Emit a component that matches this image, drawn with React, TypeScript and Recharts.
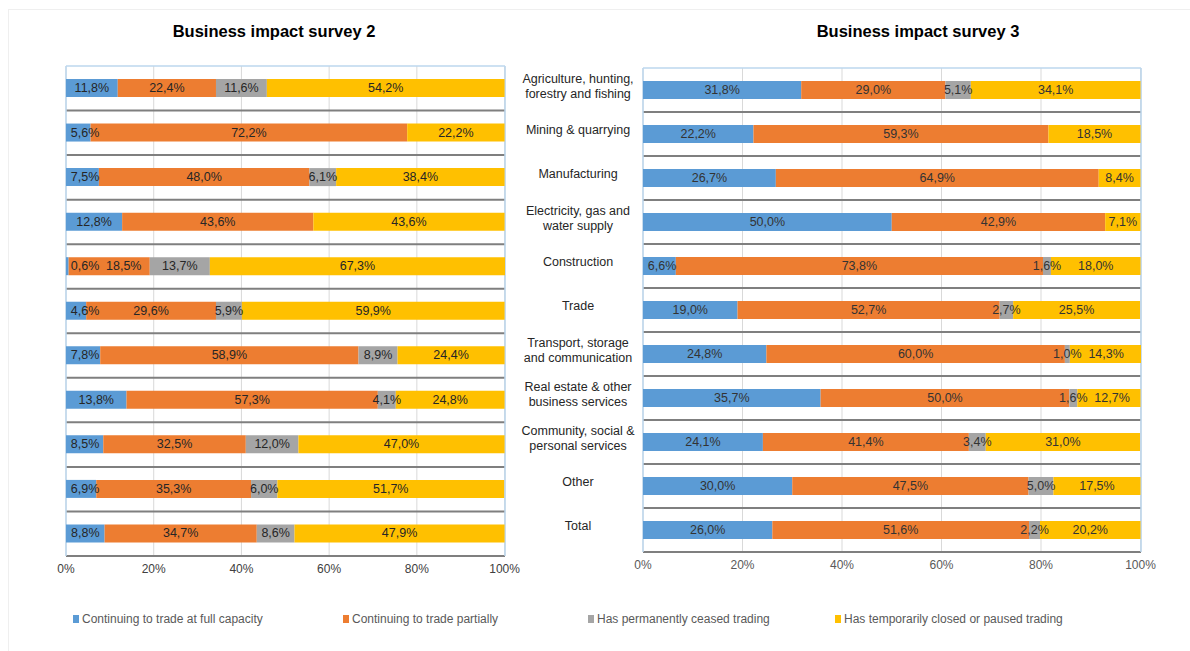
import React from "react";
import { BarChart, Bar, XAxis, YAxis, CartesianGrid, LabelList } from "recharts";

const categories = [
  "Agriculture, hunting,\nforestry and fishing",
  "Mining & quarrying",
  "Manufacturing",
  "Electricity, gas and\nwater supply",
  "Construction",
  "Trade",
  "Transport, storage\nand communication",
  "Real estate & other\nbusiness services",
  "Community, social &\npersonal services",
  "Other",
  "Total",
];

const xTicks = [0, 20, 40, 60, 80, 100];

// Business impact survey 2
const s2Full = [11.8, 5.6, 7.5, 12.8, 0.6, 4.6, 7.8, 13.8, 8.5, 6.9, 8.8];
const s2Partial = [22.4, 72.2, 48.0, 43.6, 18.5, 29.6, 58.9, 57.3, 32.5, 35.3, 34.7];
const s2Ceased = [11.6, 0, 6.1, 0, 13.7, 5.9, 8.9, 4.1, 12.0, 6.0, 8.6];
const s2Paused = [54.2, 22.2, 38.4, 43.6, 67.3, 59.9, 24.4, 24.8, 47.0, 51.7, 47.9];

// Business impact survey 3
const s3Full = [31.8, 22.2, 26.7, 50.0, 6.6, 19.0, 24.8, 35.7, 24.1, 30.0, 26.0];
const s3Partial = [29.0, 59.3, 64.9, 42.9, 73.8, 52.7, 60.0, 50.0, 41.4, 47.5, 51.6];
const s3Ceased = [5.1, 0, 0, 0, 1.6, 2.7, 1.0, 1.6, 3.4, 5.0, 2.2];
const s3Paused = [34.1, 18.5, 8.4, 7.1, 18.0, 25.5, 14.3, 12.7, 31.0, 17.5, 20.2];

const series = [
  { key: "full", name: "Continuing to trade at full capacity", color: "#5b9bd5" },
  { key: "partial", name: "Continuing to trade partially", color: "#ed7d31" },
  { key: "ceased", name: "Has permanently ceased trading", color: "#a5a5a5" },
  { key: "paused", name: "Has temporarily closed or paused trading", color: "#ffc000" },
];

const rows2 = categories.map((name, i) => ({
  name,
  full: s2Full[i],
  partial: s2Partial[i],
  ceased: s2Ceased[i],
  paused: s2Paused[i],
}));

const rows3 = categories.map((name, i) => ({
  name,
  full: s3Full[i],
  partial: s3Partial[i],
  ceased: s3Ceased[i],
  paused: s3Paused[i],
}));

const fmt = (v: number) => v.toFixed(1).replace(".", ",") + "%";

const bandLines = (props: any) => {
  const o = props && props.offset;
  if (!o) return [];
  return categories.map((_, i) => o.top + ((i + 1) * o.height) / categories.length);
};
const topLine = (props: any) => (props && props.offset ? [props.offset.top] : []);
const edgeLines = (props: any) => {
  const o = props && props.offset;
  return o ? [o.left, o.left + o.width] : [];
};

// label centres along a row, pushed right when a label would run into the previous one
function labelCenters(values: number[], x0: number, ppu: number) {
  const out: number[] = [];
  let acc = 0;
  let prevRight = -Infinity;
  values.forEach((v, i) => {
    const start = x0 + acc * ppu;
    const w = v * ppu;
    let c = start + w / 2;
    if (i === 0) c = Math.max(c, start + 19);
    const tw = fmt(v).length * 7.5;
    if (v > 0 && c - tw / 2 < prevRight + 5) c = prevRight + 5 + tw / 2;
    if (v > 0) prevRight = c + tw / 2;
    out.push(c);
    acc += v;
  });
  return out;
}

function makeLabel(data: any[], si: number, fill: string) {
  return (props: any) => {
    const { x, y, width, height, value } = props;
    // value here is the category name, used to find the row
    const row = data.find((r) => r.name === value);
    if (!row) return null;
    const own = row[series[si].key] as number;
    if (!own) return null;
    const values = series.map((s) => row[s.key] as number);
    const ppu = Number(width) / own;
    const before = values.slice(0, si).reduce((a, b) => a + b, 0);
    const x0 = Number(x) - before * ppu;
    const cx = labelCenters(values, x0, ppu)[si];
    return (
      <text
        x={cx}
        y={Number(y) + Number(height) / 2}
        textAnchor="middle"
        dominantBaseline="central"
        fontSize={12.5}
        fill={fill}
      >
        {fmt(own)}
      </text>
    );
  };
}

function CategoryTick(props: any) {
  const { x, y, payload } = props;
  const lines = String(payload.value).split("\n");
  const lh = 14.5;
  const y0 = y - 4 - ((lines.length - 1) * lh) / 2;
  const cx = x - 65;
  return (
    <text textAnchor="middle" fontSize={12.5} fill="#262626">
      {lines.map((l, i) => (
        <tspan key={i} x={cx} y={y0 + i * lh} dy="0.35em">
          {l}
        </tspan>
      ))}
    </text>
  );
}

function SurveyChart({
  data,
  width,
  height,
  margin,
  showCategories,
  tickColor,
  labelColor,
}: any) {
  return (
    <BarChart width={width} height={height} data={data} layout="vertical" margin={margin} barSize={18}>
      <CartesianGrid stroke="#d9d9d9" horizontal={false} />
      <CartesianGrid stroke="#7f7f7f" strokeWidth={2} vertical={false} horizontalCoordinatesGenerator={bandLines} />
      <CartesianGrid
        stroke="#bdd7ee"
        strokeWidth={1.5}
        horizontalCoordinatesGenerator={topLine}
        verticalCoordinatesGenerator={edgeLines}
      />
      <XAxis
        type="number"
        domain={[0, 100]}
        ticks={xTicks}
        tickFormatter={(v: number) => `${v}%`}
        axisLine={false}
        tickLine={false}
        tick={{ fontSize: 12, fill: tickColor }}
        height={30}
      />
      <YAxis
        type="category"
        dataKey="name"
        hide={!showCategories}
        width={133}
        axisLine={false}
        tickLine={false}
        tickSize={0}
        tickMargin={0}
        interval={0}
        tick={<CategoryTick />}
      />
      {series.map((s, i) => (
        <Bar key={s.key} dataKey={s.key} name={s.name} stackId="a" fill={s.color} isAnimationActive={false}>
          <LabelList dataKey={(row: any) => row.name} content={makeLabel(data, i, labelColor)} />
        </Bar>
      ))}
    </BarChart>
  );
}

const legendX = [73, 343, 588, 835];

export default function App() {
  return (
    <div
      style={{
        position: "absolute",
        left: 0,
        top: 0,
        width: 1190,
        height: 651,
        overflow: "hidden",
        background: "#fff",
        fontFamily: "'Liberation Sans', Arial, sans-serif",
      }}
    >
      <div
        style={{
          position: "absolute",
          left: 8,
          top: 9,
          width: 1200,
          height: 700,
          border: "1px solid #efefef",
        }}
      />
      <div style={{ position: "absolute", left: 0, top: 0 }}>
        <SurveyChart
          data={rows2}
          width={530}
          height={600}
          margin={{ top: 66, right: 25, bottom: 14, left: 66 }}
          showCategories={false}
          tickColor="#404040"
          labelColor="#262626"
        />
      </div>
      <div style={{ position: "absolute", left: 510, top: 0 }}>
        <SurveyChart
          data={rows3}
          width={680}
          height={600}
          margin={{ top: 68, right: 49, bottom: 18, left: 0 }}
          showCategories={true}
          tickColor="#595959"
          labelColor="#333333"
        />
      </div>
      <div
        style={{
          position: "absolute",
          left: 274,
          top: 31,
          transform: "translate(-50%, -50%)",
          fontWeight: "bold",
          fontSize: 16.5,
          color: "#000",
          whiteSpace: "nowrap",
        }}
      >
        Business impact survey 2
      </div>
      <div
        style={{
          position: "absolute",
          left: 918,
          top: 31,
          transform: "translate(-50%, -50%)",
          fontWeight: "bold",
          fontSize: 16.5,
          color: "#000",
          whiteSpace: "nowrap",
        }}
      >
        Business impact survey 3
      </div>
      {series.map((s, i) => (
        <div
          key={s.key}
          style={{
            position: "absolute",
            left: legendX[i],
            top: 612,
            display: "flex",
            alignItems: "center",
            fontSize: 12,
            color: "#595959",
            whiteSpace: "nowrap",
          }}
        >
          <span style={{ display: "inline-block", width: 6, height: 8, background: s.color, marginRight: 3 }} />
          {s.name}
        </div>
      ))}
    </div>
  );
}
